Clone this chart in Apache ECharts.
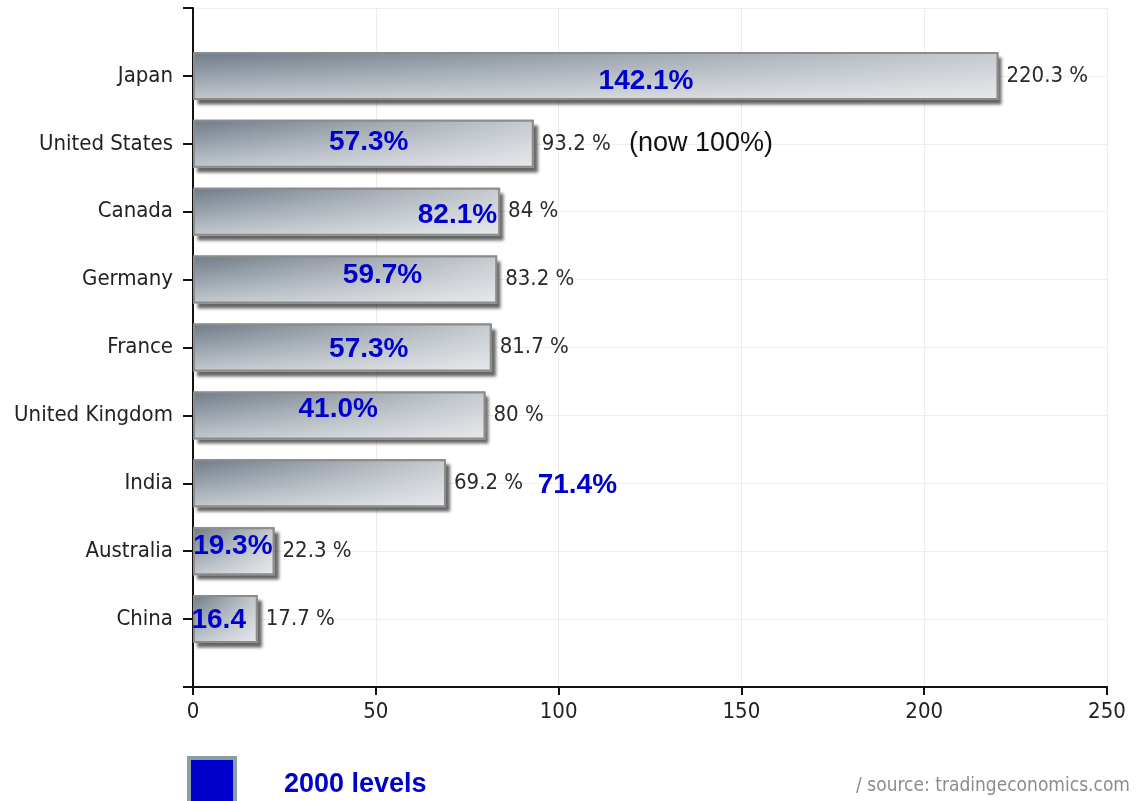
<!DOCTYPE html>
<html>
<head>
<meta charset="utf-8">
<script src="https://cdn.jsdelivr.net/npm/echarts@6/dist/echarts.min.js"></script>
<style>
html,body{margin:0;padding:0;background:#fff;}
#chart{width:1138px;height:801px;}
</style>
</head>
<body>
<div id="chart"></div>
<script>
// ---- data (top to bottom as shown) ----
const categories = ['Japan', 'United States', 'Canada', 'Germany', 'France', 'United Kingdom', 'India', 'Australia', 'China'];
const debtNow = [220.3, 93.2, 84, 83.2, 81.7, 80, 69.2, 22.3, 17.7];
const levels2000 = [142.1, 57.3, 82.1, 59.7, 57.3, 41.0, 71.4, 19.3, 16.4];
const levels2000Text = ['142.1%', '57.3%', '82.1%', '59.7%', '57.3%', '41.0%', '71.4%', '19.3%', '16.4'];
const notes = { 'United States': '(now 100%)' };
const xTickMin = 0, xTickMax = 250, xTickStep = 50;
const legendName = '2000 levels';
const sourceText = '/ source: tradingeconomics.com';

// ---- build ----
const NARROW = "'Liberation Sans Narrow', 'DejaVu Sans Condensed', 'Arial Narrow', sans-serif";
const ARIAL = "'Liberation Sans', Arial, sans-serif";
const n = categories.length;
// axis slots: one empty slot below and above
const axisCats = [''].concat(categories.slice().reverse(), ['']);
const idxOf = i => n - i; // top-down index -> axis index
const barData = axisCats.map(() => '-');
categories.forEach((c, i) => { barData[idxOf(i)] = debtNow[i]; });

const nudges = [[-19, 5], [6, -2], [4, 4], [11, -4], [6, 2], [35, -6], [163, 2], [9, -5], [-7, 1]];
const scatterData = categories.map((c, i) => ({
  value: [levels2000[i], idxOf(i)],
  label: { formatter: levels2000Text[i], offset: nudges[i] }
}));

const chart = echarts.init(document.getElementById('chart'), null, { renderer: 'canvas' });
chart.setOption({
  animation: false,
  backgroundColor: '#ffffff',
  grid: { left: 193, right: 31, top: 8, bottom: 114, containLabel: false, outerBoundsMode: 'none' },
  xAxis: {
    type: 'value', min: xTickMin, max: xTickMax, interval: xTickStep,
    axisLine: { show: true, lineStyle: { color: '#111', width: 2 } },
    axisTick: { show: true, length: 8, lineStyle: { color: '#111', width: 2 } },
    axisLabel: { color: '#222', fontFamily: NARROW, fontSize: 22, margin: 14 },
    splitLine: { show: true, lineStyle: { color: '#ececec', width: 1 } }
  },
  yAxis: {
    type: 'category', data: axisCats, boundaryGap: false,
    axisLine: { show: true, lineStyle: { color: '#111', width: 2 } },
    axisTick: { show: true, length: 10, alignWithLabel: true, lineStyle: { color: '#111', width: 2 } },
    axisLabel: { color: '#222', fontFamily: NARROW, fontSize: 22, margin: 20, interval: 0 },
    splitLine: { show: true, interval: 0, lineStyle: { color: '#efefef', width: 1 } }
  },
  series: [
    {
      type: 'bar', name: 'debt', data: barData, barWidth: 48, z: 2,
      itemStyle: {
        color: new echarts.graphic.LinearGradient(0, 0, 0, 1, [
          { offset: 0, color: '#6d7a87' },
          { offset: 1, color: '#c3c9cf' }
        ]),
        shadowColor: 'rgba(0,0,0,0.6)', shadowBlur: 3, shadowOffsetX: 4, shadowOffsetY: 5
      }
    },
    {
      type: 'bar', name: 'debt-hl', data: barData, barWidth: 48, barGap: '-100%', z: 3, silent: true,
      itemStyle: {
        color: new echarts.graphic.LinearGradient(0, 0, 1, 0, [
          { offset: 0, color: 'rgba(255,255,255,0)' },
          { offset: 1, color: 'rgba(255,255,255,0.6)' }
        ]),
        borderColor: '#8c8c8c', borderWidth: 2
      },
      label: {
        show: true, position: 'right', distance: 8,
        fontFamily: NARROW, fontSize: 22, color: '#2a2a2a',
        formatter: p => {
          const cat = axisCats[p.dataIndex];
          const base = '{a|' + p.value + ' %}';
          return notes[cat] ? base + '{b|' + notes[cat] + '}' : base;
        },
        rich: {
          a: { fontFamily: NARROW, fontSize: 22, color: '#2a2a2a' },
          b: { fontFamily: ARIAL, fontSize: 27, color: '#111', padding: [0, 0, 0, 18] }
        }
      }
    },
    {
      type: 'scatter', name: legendName, data: scatterData, symbolSize: 0, z: 5, silent: true,
      itemStyle: { opacity: 1 },
      label: {
        show: true, position: 'left', distance: 0,
        fontFamily: ARIAL, fontWeight: 'bold', fontSize: 28, color: '#0000cc',
        textBorderWidth: 0, textShadowBlur: 0, opacity: 1
      }
    }
  ],
  graphic: [
    {
      type: 'rect', left: 187, top: 756,
      shape: { width: 46, height: 48 },
      style: { fill: '#0000cc', stroke: '#8a9ea4', lineWidth: 4 }
    },
    {
      type: 'text', left: 284, top: 771,
      style: { text: legendName, fill: '#0000cc', font: 'bold 27px ' + ARIAL }
    },
    {
      type: 'text', right: 8, top: 777,
      style: { text: sourceText, fill: '#8c8c8c', font: '19px ' + NARROW }
    }
  ]
});
</script>
</body>
</html>
